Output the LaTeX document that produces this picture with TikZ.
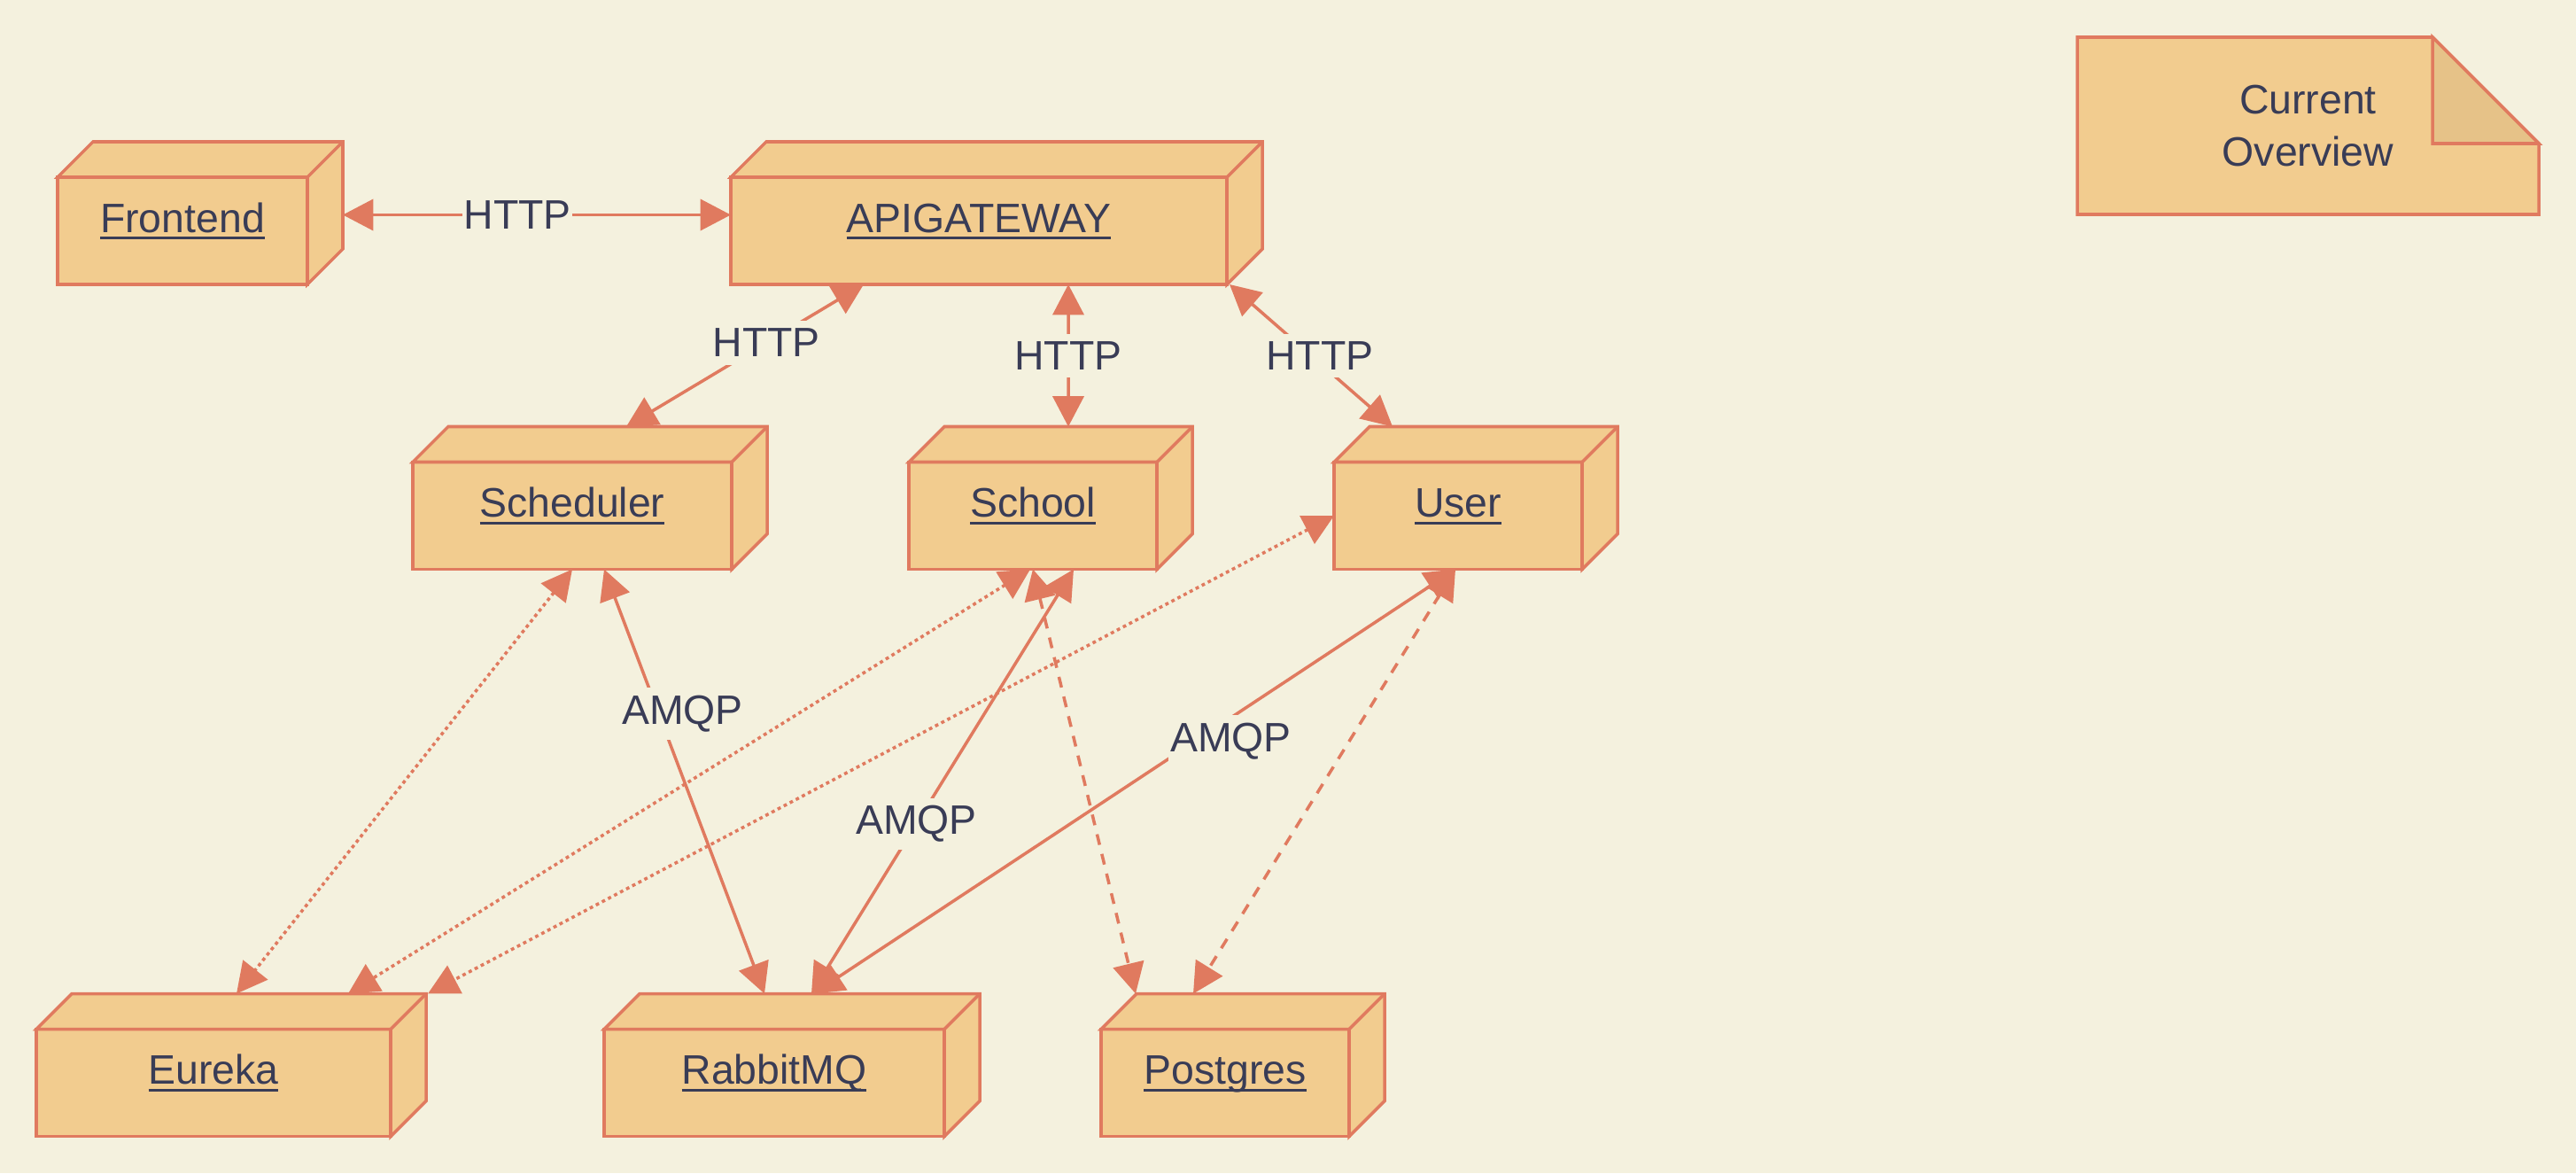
\documentclass[tikz,border=0pt]{standalone}
\usepackage{fontspec}
\setmainfont{Liberation Sans}
\usepackage{tikz}
\usetikzlibrary{arrows.meta}
\definecolor{paper}{HTML}{F4F1DE}
\definecolor{boxfill}{HTML}{F2CC8F}
\definecolor{boxline}{HTML}{E07A5F}
\definecolor{foldfill}{HTML}{E6C288}
\definecolor{ink}{HTML}{393C56}
\newcommand{\uname}[1]{\setbox0=\hbox{#1}\rlap{\rule[-2.3pt]{\wd0}{0.9pt}}\box0}
\tikzset{
	cubebox/.style={draw=boxline, fill=boxfill, line width=1pt, text=ink, outer sep=0pt, inner sep=0pt,
		minimum height=1.21cm, text height=5pt, text depth=4.1pt, font=\fontsize{13.2}{16}\selectfont},
	lbl/.style={fill=paper, text=ink, inner xsep=0.5pt, inner ysep=2.5pt, font=\fontsize{13.2}{16}\selectfont},
	conn/.style={boxline, line width=1pt, {Triangle[length=9.8pt,width=10pt]}-{Triangle[length=9.8pt,width=10pt]}},
	dotline/.style={dash pattern=on 1.1pt off 1.1pt},
	dashline/.style={dash pattern=on 3.5pt off 3pt}
}

\begin{document}
\begin{tikzpicture}
	%background
	\fill[paper] (0,0) rectangle (29.08,13.24);
	\useasboundingbox (0,0) rectangle (29.08,13.24);
	
	%note
	\filldraw[fill=boxfill, draw=boxline, line width=1pt] (23.45,10.82) -- (23.45,12.82) -- (27.46,12.82) -- (28.66,11.62) -- (28.66,10.82) -- cycle;
	\filldraw[fill=foldfill, draw=boxline, line width=1pt] (27.46,12.82) -- (28.66,11.62) -- (27.46,11.62) -- cycle;
	\node[text=ink, align=center, font=\fontsize{13.2}{17}\selectfont] (note) at (26.055,11.82) {Current\\Overview};
	
	%top row
	\node[cubebox, minimum width=2.82cm] (frontend) at (2.06,10.635) {\uname{Frontend}};
	\node[cubebox, minimum width=5.60cm] (apigw) at (11.05,10.635) {\uname{APIGATEWAY}};
	%services
	\node[cubebox, minimum width=3.60cm] (scheduler) at (6.46,7.42) {\uname{Scheduler}};
	\node[cubebox, minimum width=2.80cm] (school) at (11.66,7.42) {\uname{School}};
	\node[cubebox, minimum width=2.80cm] (user) at (16.46,7.42) {\uname{User}};
	%infrastructure
	\node[cubebox, minimum width=4.00cm] (eureka) at (2.41,1.02) {\uname{Eureka}};
	\node[cubebox, minimum width=3.84cm] (rabbit) at (8.74,1.02) {\uname{RabbitMQ}};
	\node[cubebox, minimum width=2.80cm] (postgres) at (13.83,1.02) {\uname{Postgres}};
	
	%depth of the boxes
	\foreach \n in {frontend,apigw,scheduler,school,user,eureka,rabbit,postgres}{
		\filldraw[fill=boxfill, draw=boxline, line width=1pt] (\n.north west) -- ++(0.4,0.4) -- ([shift={(0.4,0.4)}]\n.north east) -- ([shift={(0.4,0.4)}]\n.south east) -- (\n.south east) -- (\n.north east) -- cycle;
		\draw[boxline, line width=1pt] (\n.north east) -- ++(0.4,0.4);
	}
	
	%HTTP
	\draw[conn] ([shift={(0.4,0.18)}]frontend.east) -- ([yshift=0.18cm]apigw.west) node[lbl, pos=0.45] (http1) {HTTP};
	\draw[conn] ([xshift=-1.3cm]apigw.south) -- ([shift={(0.61,0.4)}]scheduler.north) node[lbl, pos=0.41] (http2) {HTTP};
	\draw[conn] ([xshift=1.01cm]apigw.south) -- ([shift={(0.4,0.4)}]school.north) node[lbl, pos=0.5] (http3) {HTTP};
	\draw[conn] ([xshift=0.03cm]apigw.south east) -- ([shift={(-0.74,0.4)}]user.north) node[lbl, pos=0.5, xshift=0.1cm] (http4) {HTTP};
	
	%eureka
	\draw[conn, dotline] (scheduler.south) -- ([shift={(0.26,0.4)}]eureka.north);
	\draw[conn, dotline] ([xshift=-0.03cm]school.south) -- ([shift={(1.52,0.4)}]eureka.north);
	\draw[conn, dotline] (user.west) -- ([shift={(2.42,0.4)}]eureka.north);
	
	%AMQP
	\draw[conn] ([xshift=0.36cm]scheduler.south) -- ([shift={(-0.11,0.4)}]rabbit.north) node[lbl, pos=0.34, xshift=0.27cm] (amqp1) {AMQP};
	\draw[conn] ([xshift=0.46cm]school.south) -- ([shift={(0.42,0.4)}]rabbit.north) node[lbl, pos=0.6] (amqp2) {AMQP};
	\draw[conn] ([xshift=-0.03cm]user.south) -- ([shift={(0.44,0.4)}]rabbit.north) node[lbl, pos=0.405, xshift=0.4cm] (amqp3) {AMQP};
	
	%postgres
	\draw[conn, dashline] (school.south) -- ([shift={(-1.01,0.4)}]postgres.north);
	\draw[conn, dashline] ([xshift=-0.03cm]user.south) -- ([shift={(-0.36,0.4)}]postgres.north);
	
\end{tikzpicture}
\end{document}
